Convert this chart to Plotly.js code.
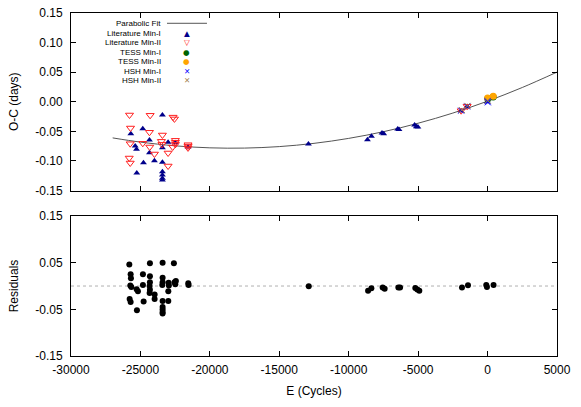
<!DOCTYPE html>
<html>
<head>
<meta charset="utf-8">
<script src="https://cdn.plot.ly/plotly-3.0.1.min.js"></script>
<style>html,body{margin:0;padding:0;background:#fff;}#chart{width:581px;height:407px;}</style>
</head>
<body>
<div id="chart"></div>
<script>
// ---- Data ----
// Parabolic fit (sampled from the drawn curve)
const fitE  = [-27000, -25000, -22500, -20000, -17500, -15000, -12500, -10000, -7500, -5000, -2500, 0, 2500, 5000];
const fitOC = [-0.0611, -0.0682, -0.0745, -0.0779, -0.0783, -0.0758, -0.0703, -0.0619, -0.0506, -0.0363, -0.0191, 0.0010, 0.0241, 0.0501];

// Literature Min-I
const litIE  = [-23417, -24831, -25693, -24350, -23008, -25377, -25283, -23417, -24350, -23991, -24781, -23417, -25262, -23417, -23417, -23417, -23417, -22484, -21572,
                -12900, -8650, -8363, -7602, -7480, -6474, -6380, -5254, -5130, -5017, -1901, -1471, -20];
const litIOC = [-0.0224, -0.0456, -0.0540, -0.0647, -0.0685, -0.0748, -0.0804, -0.0777, -0.0861, -0.0996, -0.1031, -0.1023, -0.1204, -0.1182, -0.1238, -0.1294, -0.1323, -0.0692, -0.0765,
                -0.0714, -0.0641, -0.0584, -0.0528, -0.0540, -0.0461, -0.0470, -0.0393, -0.0422, -0.0427, -0.0155, -0.0080, 0.0000];

// Literature Min-II
const litIIE  = [-25786, -24300, -22650, -22550, -25714, -24350, -23417, -25736, -24831, -24329, -23489, -23450, -22484, -22484, -22484, -21572, -21572, -21572, -22677, -23991, -23008, -25807, -25736, -23008,
                 -1901, -1471];
const litIIOC = [-0.0224, -0.0229, -0.0260, -0.0290, -0.0444, -0.0516, -0.0562, -0.0709, -0.0702, -0.0765, -0.0669, -0.0720, -0.0652, -0.0685, -0.0720, -0.0726, -0.0750, -0.0780, -0.0765, -0.0883, -0.0866, -0.0951, -0.1035, -0.1086,
                 -0.0151, -0.0077];

// TESS
const tessIE   = [20, 400];
const tessIOC  = [0.0050, 0.0080];
const tessIIE  = [0, 410];
const tessIIOC = [0.0065, 0.0092];

// HSH
const hshIE   = [-1901, -1471, 0, 20];
const hshIOC  = [-0.0150, -0.0080, 0.0010, -0.0010];
const hshIIE  = [-1850, -1450, 10];
const hshIIOC = [-0.0140, -0.0070, 0.0020];

// Residuals
const resE = [-25799, -24317, -23403, -22590, -25705, -24820, -24317, -25684, -23403,
              -25727, -25655, -25274, -25180, -24820, -24317, -24338, -24317, -23403, -23425,
              -22971, -22950, -22993, -22540, -22446, -22489, -21554, -21533, -24338, -23979, -23979,
              -25777, -25705, -24770, -23403, -22993, -25252, -23403, -23403, -23403, -23403,
              -12878, -8605, -8368, -7555, -7411, -6425, -6303, -5203, -5059, -4915, -1843, -1411, -95, -45, 430];
const resV = [0.046, 0.049, 0.050, 0.049, 0.025, 0.025, 0.021, 0.0165, 0.018,
              0.001, -0.002, -0.007, -0.011, 0.002, 0.008, 0.000, -0.008, 0.008, 0.002,
              0.007, 0.001, -0.011, 0.008, 0.011, 0.004, 0.006, 0.002, -0.015, -0.018, -0.028,
              -0.028, -0.034, -0.033, -0.032, -0.032, -0.052, -0.045, -0.0505, -0.0556, -0.059,
              -0.0006, -0.010, -0.005, -0.003, -0.006, -0.003, -0.0034, -0.004, -0.0077, -0.010, -0.003, 0.0015, 0.002, -0.002, 0.002];

// Axis ticks
const topTicks = [-0.15, -0.10, -0.05, 0.00, 0.05, 0.10, 0.15];
const resTicks = [-0.15, -0.05, 0.05, 0.15];
const xTicks = [-30000, -25000, -20000, -15000, -10000, -5000, 0, 5000];

// Legend labels
const legendNames = ['Parabolic Fit', 'Literature Min-I', 'Literature Min-II', 'TESS Min-I', 'TESS Min-II', 'HSH Min-I', 'HSH Min-II'];

// ---- Plot ----
const FONT = 'Liberation Sans, Arial, Helvetica, sans-serif';
const traces = [
  {x: fitE, y: fitOC, xaxis: 'x2', yaxis: 'y2', mode: 'lines', line: {color: '#555555', width: 1, shape: 'spline'}, showlegend: false},
  {x: litIE, y: litIOC, xaxis: 'x2', yaxis: 'y2', mode: 'markers', marker: {symbol: 'triangle-up', size: 6, color: '#00008b'}, showlegend: false},
  {x: litIIE, y: litIIOC, xaxis: 'x2', yaxis: 'y2', mode: 'markers', marker: {symbol: 'triangle-down-open', size: 7, color: '#ff2020', line: {width: 1}}, showlegend: false},
  {x: tessIE, y: tessIOC, xaxis: 'x2', yaxis: 'y2', mode: 'markers', marker: {symbol: 'circle', size: 7, color: '#006400'}, showlegend: false},
  {x: tessIIE, y: tessIIOC, xaxis: 'x2', yaxis: 'y2', mode: 'markers', marker: {symbol: 'circle', size: 7, color: '#ffa500'}, showlegend: false},
  {x: hshIE, y: hshIOC, xaxis: 'x2', yaxis: 'y2', mode: 'markers', marker: {symbol: 'x-thin-open', size: 6, color: '#0000ff', line: {width: 1, color: '#0000ff'}}, showlegend: false},
  {x: hshIIE, y: hshIIOC, xaxis: 'x2', yaxis: 'y2', mode: 'markers', marker: {symbol: 'x-thin-open', size: 6, color: '#a0804a', line: {width: 1, color: '#a0804a'}}, showlegend: false},
  {x: resE, y: resV, xaxis: 'x', yaxis: 'y', mode: 'markers', marker: {symbol: 'circle', size: 6, color: '#000000'}, showlegend: false}
];

const axisCommon = {
  showgrid: false, zeroline: false, showline: true, linecolor: '#000', linewidth: 1,
  ticks: 'inside', ticklen: 5, tickcolor: '#000', mirror: 'allticks',
  tickfont: {family: FONT, size: 12, color: '#000'}
};

// legend built as annotations (gnuplot-style key: text then sample)
const legRowsY = [0.970, 0.9408, 0.9146, 0.8854, 0.858, 0.8309, 0.8026];
const legSyms = ['', '▲', '▽', '●', '●', '✕', '✕'];
const legCols = ['#555555', '#00008b', '#ff2020', '#006400', '#ffa500', '#0000ff', '#a0804a'];
const annotations = [];
legendNames.forEach((n, i) => {
  annotations.push({xref: 'paper', yref: 'paper', x: 0.1872, y: legRowsY[i], xanchor: 'right', yanchor: 'middle',
    text: n, showarrow: false, borderpad: 0, font: {family: FONT, size: 8, color: '#000'}});
  if (legSyms[i]) {
    annotations.push({xref: 'paper', yref: 'paper', x: 0.238, y: legRowsY[i], xanchor: 'center', yanchor: 'middle',
      text: legSyms[i], showarrow: false, borderpad: 0, font: {family: 'DejaVu Sans, sans-serif', size: 7.5, color: legCols[i]}});
  }
});

const layout = {
  width: 581, height: 407,
  margin: {l: 71, r: 24, t: 13, b: 51},
  paper_bgcolor: '#fff', plot_bgcolor: '#fff',
  showlegend: false,
  font: {family: FONT, size: 12, color: '#000'},
  xaxis: Object.assign({}, axisCommon, {anchor: 'y', range: [-30000, 5000], tickvals: xTicks, ticktext: xTicks.map(String),
    ticklabelstandoff: 3, title: {text: 'E (Cycles)', font: {family: FONT, size: 12}, standoff: 10}}),
  xaxis2: Object.assign({}, axisCommon, {anchor: 'y2', matches: 'x', range: [-30000, 5000], tickvals: xTicks, showticklabels: false}),
  yaxis: Object.assign({}, axisCommon, {anchor: 'x', domain: [0, 0.408], range: [-0.15, 0.15], tickvals: resTicks, ticktext: resTicks.map(v => v.toFixed(2)),
    ticklabelstandoff: 5, title: {text: 'Residuals', font: {family: FONT, size: 12}, standoff: 14}}),
  yaxis2: Object.assign({}, axisCommon, {anchor: 'x2', domain: [0.4825, 1], range: [-0.15, 0.15], tickvals: topTicks, ticktext: topTicks.map(v => v.toFixed(2)),
    ticklabelstandoff: 5, title: {text: 'O-C (days)', font: {family: FONT, size: 12}, standoff: 14}}),
  shapes: [
    {type: 'line', xref: 'x', yref: 'y', x0: -30000, x1: 5000, y0: 0, y1: 0, line: {color: '#b0b0b0', width: 1, dash: 'dot'}, layer: 'below'},
    {type: 'line', xref: 'paper', yref: 'paper', x0: 0.1975, x1: 0.2798, y0: 0.970, y1: 0.970, line: {color: '#555555', width: 1}}
  ],
  annotations: annotations
};

Plotly.newPlot('chart', traces, layout, {displayModeBar: false, staticPlot: true});
</script>
</body>
</html>
